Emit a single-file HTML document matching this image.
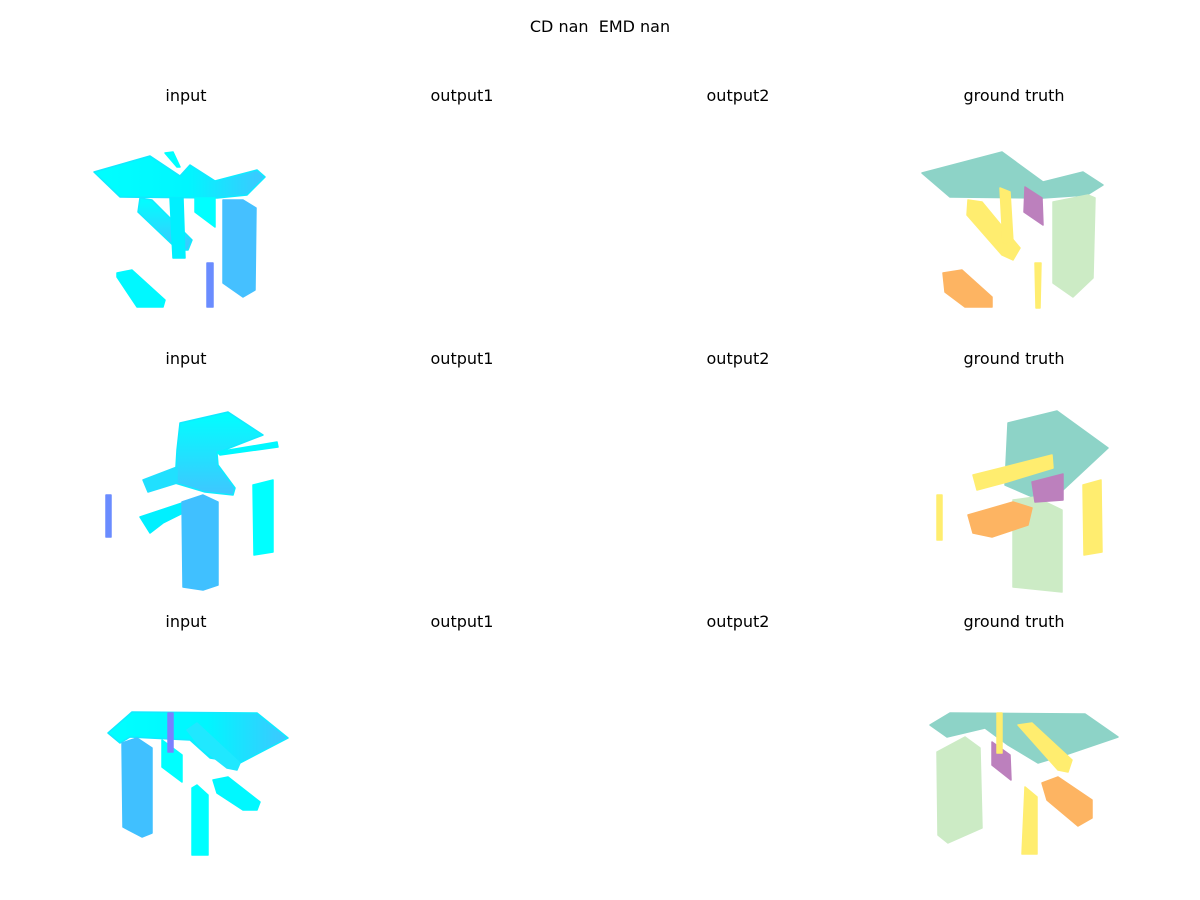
<!DOCTYPE html>
<html><head><meta charset="utf-8">
<style>
html,body{margin:0;padding:0;background:#fff;}
svg{display:block;}
text{font-family:"DejaVu Sans","Liberation Sans",sans-serif;font-size:16px;fill:#000;white-space:pre;}
</style></head>
<body>
<svg id="fig" width="1200" height="900" viewBox="0 0 1200 900" xmlns="http://www.w3.org/2000/svg">
<defs>
<linearGradient id="gIn" x1="0" y1="0" x2="1" y2="0">
<stop offset="0" stop-color="#00ffff"/><stop offset="0.55" stop-color="#00f6ff"/><stop offset="1" stop-color="#3fc6ff"/></linearGradient>
<linearGradient id="gIn2" x1="0" y1="0" x2="0" y2="1">
<stop offset="0" stop-color="#00ffff"/><stop offset="1" stop-color="#3fc6ff"/></linearGradient>
</defs>
<text x="600" y="32" text-anchor="middle" xml:space="preserve">CD nan&#160; EMD nan</text>
<g id="titles"></g>
<g id="shapes"></g>
</svg>
<script>
const colTitles = ["input","output1","output2","ground truth"];
const colCenters = [186,462,738,1014];
const rowTitleY = [101,364,627];

// shapes: [panel-name, color, points]
const shapes = [
 ["r1-input-tabletop","url(#gIn)","94,172 150,156 180,176 190,165 215,181 257,170 265,177 247,195 217,198 120,197"],
 ["r1-input-small-top","#00ffff","165,153 173,152 180,167 177,167"],
 ["r1-input-arm","url(#gIn2)","140,198 152,200 192,240 188,250 178,250 138,212"],
 ["r1-input-leg","#00f0ff","170,198 183,198 185,258 173,258"],
 ["r1-input-box","#00ffff","195,198 215,198 215,227 195,212"],
 ["r1-input-cabinet","#45c0ff","223,200 243,200 256,208 255,290 243,297 223,283"],
 ["r1-input-stick","#6a8cff","207,263 213,263 213,307 207,307"],
 ["r1-input-bottom","#00f8ff","117,273 132,270 165,300 163,307 137,307 117,277"],

 ["r2-input-slab","url(#gIn2)","180,423 228,412 263,435 237,445 217,453 218,465 235,488 233,495 205,492 175,483 177,450"],
 ["r2-input-strip","#00f8ff","217,452 277,442 278,447 220,455"],
 ["r2-input-shelf","#20e0ff","143,480 177,467 177,483 148,492"],
 ["r2-input-lower-shelf","#00f0ff","140,517 200,497 203,503 163,523 150,533"],
 ["r2-input-column","#40c0ff","182,502 203,495 218,502 218,585 203,590 183,587"],
 ["r2-input-panel","#00ffff","253,485 273,480 273,552 254,555"],
 ["r2-input-stick","#6a8cff","106,495 111,495 111,537 106,537"],

 ["r3-input-top","url(#gIn)","108,733 132,712 257,713 288,738 240,763 210,758 190,740 130,737 120,743"],
 ["r3-input-cabinet","#40c0ff","122,743 137,738 152,748 152,833 142,837 123,827"],
 ["r3-input-panel","#00ffff","162,740 182,755 182,782 162,767"],
 ["r3-input-stick","#7a80ff","168,713 173,713 173,752 168,752"],
 ["r3-input-stand","#00ffff","192,788 197,785 208,795 208,855 192,855"],
 ["r3-input-object","#00f8ff","213,780 228,777 260,802 257,810 243,810 217,793"],
 ["r3-input-arm","#20e8ff","187,730 197,723 240,763 237,770 227,768 200,747"],

 ["r1-gt-table","#8dd3c7","922,173 1002,152 1043,182 1083,172 1103,185 1087,195 1043,198 950,197"],
 ["r1-gt-arm","#ffed6f","968,200 982,202 1020,248 1013,260 1002,255 967,215"],
 ["r1-gt-leg","#ffed6f","1000,188 1010,192 1013,242 1003,245"],
 ["r1-gt-stick","#ffed6f","1035,263 1041,263 1040,308 1036,308"],
 ["r1-gt-purple","#bc80bd","1025,187 1042,198 1043,225 1024,212"],
 ["r1-gt-green","#ccebc5","1053,202 1088,195 1095,198 1093,278 1073,297 1053,283"],
 ["r1-gt-orange","#fdb462","943,273 962,270 992,297 992,307 965,307 945,292"],

 ["r2-gt-teal","#8dd3c7","1008,423 1057,411 1108,448 1063,490 1035,498 1005,485"],
 ["r2-gt-green","#ccebc5","1013,500 1035,497 1062,510 1062,592 1013,587"],
 ["r2-gt-orange","#fdb462","968,515 1013,502 1032,508 1028,525 992,537 973,533"],
 ["r2-gt-purple","#bc80bd","1032,482 1063,474 1063,500 1035,502"],
 ["r2-gt-yellow-right","#ffed6f","1083,485 1101,480 1102,552 1084,555"],
 ["r2-gt-yellow-stick","#ffed6f","937,495 942,495 942,540 937,540"],
 ["r2-gt-yellow-shelf","#ffed6f","973,475 1005,467 1052,455 1053,468 1007,482 977,490"],

 ["r3-gt-teal","#8dd3c7","930,725 950,713 1085,714 1118,737 1065,755 1038,763 1008,745 985,728 947,737"],
 ["r3-gt-green","#ccebc5","937,752 965,737 980,748 982,828 948,843 938,835"],
 ["r3-gt-purple","#bc80bd","992,742 1010,755 1011,780 992,765"],
 ["r3-gt-orange","#fdb462","1042,783 1058,777 1092,800 1092,818 1078,826 1047,800"],
 ["r3-gt-yellow-stand","#ffed6f","1025,787 1037,797 1037,854 1022,854"],
 ["r3-gt-yellow-scatter","#ffed6f","1018,725 1032,723 1072,760 1068,772 1058,770"],
 ["r3-gt-yellow-stick","#ffed6f","997,713 1002,713 1002,753 997,753"]
];

const NS="http://www.w3.org/2000/svg";
const tg=document.getElementById("titles");
rowTitleY.forEach((y,r)=>{
  colCenters.forEach((x,c)=>{
    const t=document.createElementNS(NS,"text");
    t.setAttribute("x",x);t.setAttribute("y",y);t.setAttribute("text-anchor","middle");
    t.textContent=colTitles[c];
    
    
    tg.appendChild(t);
  });
});
const sg=document.getElementById("shapes");
shapes.forEach(s=>{
  const p=document.createElementNS(NS,"polygon");
  p.setAttribute("points",s[2]);p.setAttribute("fill",s[1]);
  p.setAttribute("stroke",s[1].startsWith("url")?"#10eaff":s[1]);
  p.setAttribute("stroke-width","1.5");p.setAttribute("stroke-linejoin","round");
  
  
  sg.appendChild(p);
});
</script>
</body></html>
